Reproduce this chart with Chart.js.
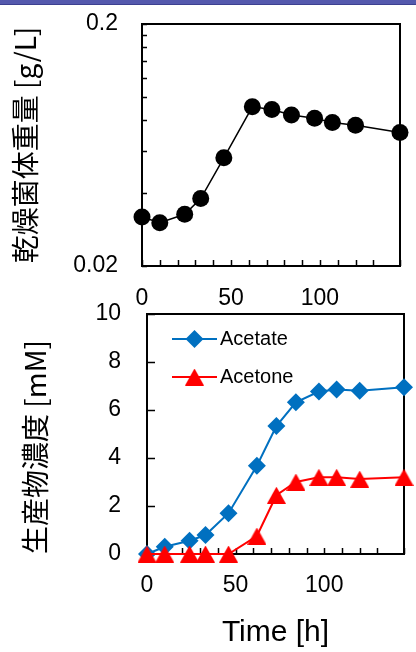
<!DOCTYPE html>
<html>
<head>
<meta charset="utf-8">
<script src="https://cdn.jsdelivr.net/npm/chart.js@4.4.0/dist/chart.umd.min.js"></script>
<style>
  html, body { margin: 0; padding: 0; background: #fff; }
  #barra { position: absolute; left: 0; top: 0; width: 416px; height: 4px; background: #5459ad; border-bottom: 1px solid #3c4090; }
  .lienzo { position: absolute; left: 0; top: 0; }
</style>
</head>
<body>
<div id="barra"></div>
<canvas id="graficoBiomasa" class="lienzo" width="416" height="652"></canvas>
<canvas id="graficoProductos" class="lienzo" width="416" height="652"></canvas>
<script>
// datos
const horas = [0, 10, 24, 33, 46, 62, 73, 84, 97, 107, 120, 145];
const biomasa = [0.0319, 0.0302, 0.0327, 0.038, 0.056, 0.091, 0.0887, 0.0841, 0.0815, 0.0784, 0.0764, 0.0713];
const acetato = [0, 0.3, 0.55, 0.79, 1.7, 3.68, 5.33, 6.32, 6.77, 6.85, 6.8, 6.95];
const acetona = [0, 0, 0, 0, 0, 0.75, 2.45, 3.0, 3.2, 3.2, 3.12, 3.2];

const marcasBiomasa = [0.02, 0.04, 0.06, 0.08, 0.1, 0.12, 0.14, 0.16, 0.18, 0.2];
const etiquetasBiomasa = [0.02, 0.2];
const etiquetasHoras = [0, 50, 100];

const fuente = "'Liberation Sans', Arial, 'Noto Sans CJK JP', sans-serif";
const fuenteJp = "'Noto Sans CJK JP', 'Liberation Sans', sans-serif";

const puntos = vals => horas.map((h, i) => ({ x: h, y: vals[i] }));

// el area del grafico la fija el layout, no las etiquetas
const fijar = (prop, valor) => s => {
    s[prop] = valor;
    s.paddingTop = 0;
    s.paddingBottom = 0;
    s.paddingLeft = 0;
    s.paddingRight = 0;
};

// triangulo centrado por su caja, como en la figura original
function triangulo(ancho, alto, color) {
    const c = document.createElement('canvas');
    c.width = ancho;
    c.height = alto;
    const g = c.getContext('2d');
    g.fillStyle = color;
    g.beginPath();
    g.moveTo(ancho / 2, 0);
    g.lineTo(ancho, alto);
    g.lineTo(0, alto);
    g.closePath();
    g.fill();
    return c;
}

// marco negro y marcas hacia adentro
const marcasInternas = {
    id: 'marcasInternas',
    beforeDatasetsDraw(chart, args, opts) {
        const { ctx, chartArea: a, scales: { x, y } } = chart;
        ctx.save();
        ctx.strokeStyle = '#000';
        ctx.lineWidth = 1.5;
        ctx.beginPath();
        y.ticks.forEach(t => {
            const py = Math.round(y.getPixelForValue(t.value)) + 0.5;
            ctx.moveTo(a.left, py);
            ctx.lineTo(a.left + opts.largoY, py);
        });
        x.ticks.forEach(t => {
            const px = Math.round(x.getPixelForValue(t.value)) + 0.5;
            ctx.moveTo(px, a.bottom);
            ctx.lineTo(px, a.bottom - opts.largoX);
        });
        ctx.stroke();
        ctx.lineWidth = 2;
        ctx.strokeRect(a.left, a.top, a.right - a.left, a.bottom - a.top);
        ctx.restore();
    }
};

const leyendaInterna = {
    id: 'leyendaInterna',
    afterDatasetsDraw(chart, args, opts) {
        const ctx = chart.ctx;
        chart.data.datasets.forEach((ds, i) => {
            const y = opts.y + i * opts.paso;
            ctx.save();
            ctx.strokeStyle = ds.borderColor;
            ctx.lineWidth = ds.borderWidth;
            ctx.beginPath();
            ctx.moveTo(opts.x, y);
            ctx.lineTo(opts.x + opts.largo, y);
            ctx.stroke();
            ctx.fillStyle = ds.pointBackgroundColor;
            Chart.helpers.drawPoint(ctx, {
                pointStyle: ds.pointStyle,
                radius: ds.pointRadius,
                rotation: 0,
                borderWidth: 0
            }, opts.x + opts.largo / 2, y);
            ctx.fillStyle = '#000';
            ctx.font = '20px ' + fuente;
            ctx.textBaseline = 'middle';
            ctx.textAlign = 'left';
            ctx.fillText(ds.label, opts.x + opts.largo + 3, y);
            ctx.restore();
        });
    }
};

const ejeX = (relleno, alto, titulo) => ({
    type: 'linear',
    min: 0,
    max: 145,
    grid: { display: false, drawTicks: false },
    border: { display: false },
    afterFit: fijar('height', alto),
    ticks: {
        stepSize: 10,
        autoSkip: false,
        maxRotation: 0,
        padding: relleno,
        color: '#000',
        font: { family: fuente, size: 23 },
        callback: v => etiquetasHoras.includes(v) ? v : ''
    },
    title: titulo
});

new Chart(document.getElementById('graficoBiomasa').getContext('2d'), {
    type: 'line',
    data: {
        datasets: [{
            data: puntos(biomasa),
            borderColor: '#000',
            borderWidth: 1.5,
            pointStyle: 'circle',
            pointRadius: 8.5,
            pointBackgroundColor: '#000',
            pointBorderWidth: 0,
            clip: false
        }]
    },
    options: {
        responsive: false,
        animation: false,
        layout: { padding: { left: 0, top: 24, right: 16, bottom: 0 } },
        plugins: {
            legend: { display: false },
            tooltip: { enabled: false },
            marcasInternas: { largoX: 6, largoY: 5 }
        },
        scales: {
            x: ejeX(19, 652 - 266, { display: false }),
            y: {
                type: 'logarithmic',
                min: 0.02,
                max: 0.2,
                grid: { display: false, drawTicks: false },
                border: { display: false },
                afterBuildTicks: s => { s.ticks = marcasBiomasa.map(v => ({ value: v })); },
                afterFit: fijar('width', 142),
                ticks: {
                    autoSkip: false,
                    padding: 24,
                    color: '#000',
                    font: { family: fuente, size: 23 },
                    callback: v => etiquetasBiomasa.includes(v) ? String(v) : ''
                },
                title: {
                    display: true,
                    text: '乾燥菌体重量 [g/L]',
                    color: '#000',
                    font: { family: fuenteJp, size: 28 },
                    padding: { top: 9, bottom: 0 }
                }
            }
        }
    },
    plugins: [marcasInternas]
});

new Chart(document.getElementById('graficoProductos').getContext('2d'), {
    type: 'line',
    data: {
        datasets: [{
            label: 'Acetate',
            data: puntos(acetato),
            borderColor: '#0070C0',
            borderWidth: 2,
            pointStyle: 'rectRot',
            pointRadius: 9,
            pointBackgroundColor: '#0070C0',
            pointBorderWidth: 0,
            order: 1,
            clip: false
        }, {
            label: 'Acetone',
            data: puntos(acetona),
            borderColor: '#FF0000',
            borderWidth: 2,
            pointStyle: triangulo(19, 17, '#FF0000'),
            pointRadius: 10,
            pointBackgroundColor: '#FF0000',
            pointBorderWidth: 0,
            order: 0,
            clip: false
        }]
    },
    options: {
        responsive: false,
        animation: false,
        layout: { padding: { left: 0, top: 314, right: 12, bottom: 0 } },
        plugins: {
            legend: { display: false },
            tooltip: { enabled: false },
            marcasInternas: { largoX: 6, largoY: 8 },
            leyendaInterna: { x: 172, y: 339, paso: 38, largo: 45 }
        },
        scales: {
            x: ejeX(18, 652 - 554, {
                display: true,
                text: 'Time [h]',
                color: '#000',
                font: { family: fuente, size: 30 },
                padding: { top: 0, bottom: 1 }
            }),
            y: {
                min: 0,
                max: 10,
                grid: { display: false, drawTicks: false },
                border: { display: false },
                afterFit: fijar('width', 147),
                ticks: {
                    stepSize: 2,
                    padding: 26,
                    color: '#000',
                    font: { family: fuente, size: 23 }
                },
                title: {
                    display: true,
                    text: '生産物濃度 [mM]',
                    align: 'start',
                    color: '#000',
                    font: { family: fuenteJp, size: 28 },
                    padding: { top: 19, bottom: 0 }
                }
            }
        }
    },
    plugins: [marcasInternas, leyendaInterna]
});
</script>
</body>
</html>
